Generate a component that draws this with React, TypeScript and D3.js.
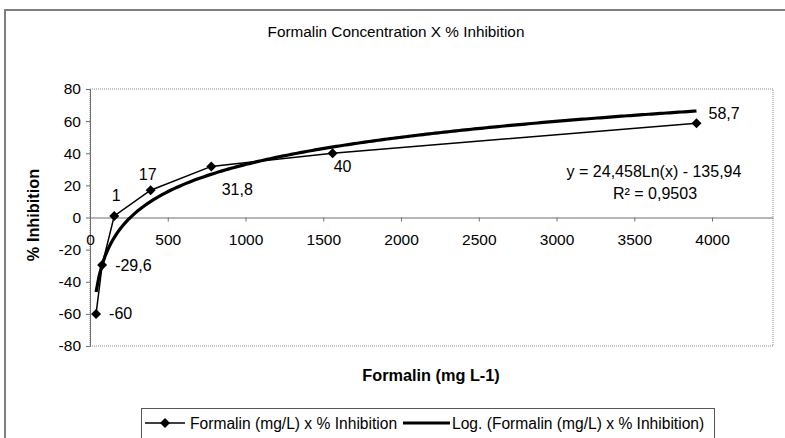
import React, { useEffect, useRef } from "react";
import * as d3 from "d3";

// Formalin concentration (mg/L) and % inhibition
const concentrations = [39, 78, 156, 390, 780, 1560, 3900];
const inhibition = [-60, -29.6, 1, 17, 31.8, 40, 58.7];
const pointLabels = ["-60", "-29,6", "1", "17", "31,8", "40", "58,7"];

const xTicks = [0, 500, 1000, 1500, 2000, 2500, 3000, 3500, 4000];
const yTicks = [-80, -60, -40, -20, 0, 20, 40, 60, 80];

const title = "Formalin Concentration X % Inhibition";
const xTitle = "Formalin (mg L-1)";
const yTitle = "% Inhibition";
const seriesName = "Formalin (mg/L) x % Inhibition";
const trendName = "Log. (Formalin (mg/L) x % Inhibition)";
const equationText = "y = 24,458Ln(x) - 135,94";
const r2Text = "R² = 0,9503";

// where each data label sits relative to its marker
const labelOffsets = [
  { dx: 13, dy: 0, anchor: "start" },
  { dx: 13, dy: 0, anchor: "start" },
  { dx: 2, dy: -20, anchor: "middle" },
  { dx: -3, dy: -16, anchor: "middle" },
  { dx: 26, dy: 23, anchor: "middle" },
  { dx: 10, dy: 13, anchor: "middle" },
  { dx: 12, dy: -10, anchor: "start" },
];

const FONT = "'Liberation Sans', Arial, sans-serif";

function diamond(cx: number, cy: number, r: number) {
  return `M${cx},${cy - r}L${cx + r},${cy}L${cx},${cy + r}L${cx - r},${cy}Z`;
}

export default function App() {
  const ref = useRef<SVGSVGElement>(null);

  useEffect(() => {
    const svg = d3.select(ref.current);
    svg.selectAll("*").remove();

    const plot = { left: 90, right: 773, top: 89, bottom: 346 };

    const x = d3.scaleLinear().domain([0, 4392]).range([plot.left, plot.right]);
    const y = d3.scaleLinear().domain([-80, 80]).range([plot.bottom, plot.top]);

    const data = concentrations.map((c, i) => ({ x: c, y: inhibition[i], label: pointLabels[i] }));

    // log trend by least squares on ln(x)
    const lx = data.map(d => Math.log(d.x));
    const mx = d3.mean(lx) as number;
    const my = d3.mean(data, d => d.y) as number;
    const sxy = d3.sum(data, (d, i) => (lx[i] - mx) * (d.y - my));
    const sxx = d3.sum(lx, v => (v - mx) * (v - mx));
    const slope = sxy / sxx;
    const intercept = my - slope * mx;
    const x0 = concentrations[0];
    const x1 = concentrations[concentrations.length - 1];
    const trend = d3.range(0, 201).map(i => {
      const xv = x0 + (x1 - x0) * (i / 200);
      return { x: xv, y: slope * Math.log(xv) + intercept };
    });

    // outer chart border
    svg.append("path")
      .attr("d", `M5,440V10H790`)
      .attr("fill", "none")
      .attr("stroke", "#7f7f7f")
      .attr("stroke-width", 2);

    // plot area (dotted)
    svg.append("rect")
      .attr("x", plot.left)
      .attr("y", plot.top)
      .attr("width", plot.right - plot.left)
      .attr("height", plot.bottom - plot.top)
      .attr("fill", "none")
      .attr("stroke", "#8c8c8c")
      .attr("stroke-width", 1)
      .attr("stroke-dasharray", "1,1");

    svg.append("text")
      .attr("x", 396)
      .attr("y", 37)
      .attr("text-anchor", "middle")
      .attr("font-family", FONT)
      .attr("font-size", 15.3)
      .text(title);

    // y axis
    const yAxis = svg.append("g")
      .attr("transform", `translate(${plot.left},0)`)
      .call(d3.axisLeft(y).tickValues(yTicks).tickSize(4).tickPadding(5).tickFormat(d => String(d)));
    yAxis.select(".domain").attr("stroke", "#6e6e6e");
    yAxis.selectAll(".tick line").attr("stroke", "#6e6e6e");
    yAxis.selectAll("text").attr("font-family", FONT).attr("font-size", 15.5).attr("fill", "#000");

    // x axis crossing at y = 0
    const xAxis = svg.append("g")
      .attr("transform", `translate(0,${y(0)})`)
      .call(d3.axisBottom(x).tickValues(xTicks).tickSize(4).tickSizeOuter(0).tickPadding(12).tickFormat(d => String(d)));
    xAxis.select(".domain").attr("stroke", "#6e6e6e");
    xAxis.selectAll(".tick line").attr("stroke", "#6e6e6e");
    xAxis.selectAll("text").attr("font-family", FONT).attr("font-size", 15.5).attr("fill", "#000");

    svg.append("text")
      .attr("x", 431)
      .attr("y", 381)
      .attr("text-anchor", "middle")
      .attr("font-family", FONT)
      .attr("font-weight", "bold")
      .attr("font-size", 16.3)
      .text(xTitle);

    svg.append("text")
      .attr("transform", `translate(39,${215}) rotate(-90)`)
      .attr("text-anchor", "middle")
      .attr("font-family", FONT)
      .attr("font-weight", "bold")
      .attr("font-size", 16.3)
      .text(yTitle);

    // data series
    const line = d3.line<{ x: number; y: number }>().x(d => x(d.x)).y(d => y(d.y));
    svg.append("path")
      .datum(data)
      .attr("d", line)
      .attr("fill", "none")
      .attr("stroke", "#000")
      .attr("stroke-width", 1.5);

    // trend line
    svg.append("path")
      .datum(trend)
      .attr("d", line)
      .attr("fill", "none")
      .attr("stroke", "#000")
      .attr("stroke-width", 3.2);

    svg.selectAll(".marker")
      .data(data)
      .join("path")
      .attr("class", "marker")
      .attr("d", d => diamond(x(d.x), y(d.y), 5))
      .attr("fill", "#000");

    svg.selectAll(".label")
      .data(data)
      .join("text")
      .attr("class", "label")
      .attr("x", (d, i) => x(d.x) + labelOffsets[i].dx)
      .attr("y", (d, i) => y(d.y) + labelOffsets[i].dy + 5.5)
      .attr("text-anchor", (d, i) => labelOffsets[i].anchor)
      .attr("font-family", FONT)
      .attr("font-size", 16)
      .text(d => d.label);

    svg.append("text")
      .attr("x", 654)
      .attr("y", 177)
      .attr("text-anchor", "middle")
      .attr("font-family", FONT)
      .attr("font-size", 16)
      .text(equationText);
    svg.append("text")
      .attr("x", 655)
      .attr("y", 199)
      .attr("text-anchor", "middle")
      .attr("font-family", FONT)
      .attr("font-size", 16)
      .text(r2Text);

    // legend
    const lg = svg.append("g");
    lg.append("rect")
      .attr("x", 141.5)
      .attr("y", 408.5)
      .attr("width", 573)
      .attr("height", 40)
      .attr("fill", "#fff")
      .attr("stroke", "#555")
      .attr("stroke-width", 1);
    lg.append("line")
      .attr("x1", 145).attr("x2", 185).attr("y1", 423).attr("y2", 423)
      .attr("stroke", "#000").attr("stroke-width", 1.5);
    lg.append("path").attr("d", diamond(165, 423, 5)).attr("fill", "#000");
    lg.append("text")
      .attr("x", 190).attr("y", 428.5)
      .attr("font-family", FONT).attr("font-size", 15.6)
      .text(seriesName);
    lg.append("line")
      .attr("x1", 403).attr("x2", 450).attr("y1", 423).attr("y2", 423)
      .attr("stroke", "#000").attr("stroke-width", 3.2);
    lg.append("text")
      .attr("x", 452).attr("y", 428.5)
      .attr("font-family", FONT).attr("font-size", 15.6)
      .text(trendName);
  }, []);

  return (
    <svg
      ref={ref}
      width={785}
      height={438}
      style={{ position: "absolute", left: 0, top: 0, background: "#fff" }}
    />
  );
}
